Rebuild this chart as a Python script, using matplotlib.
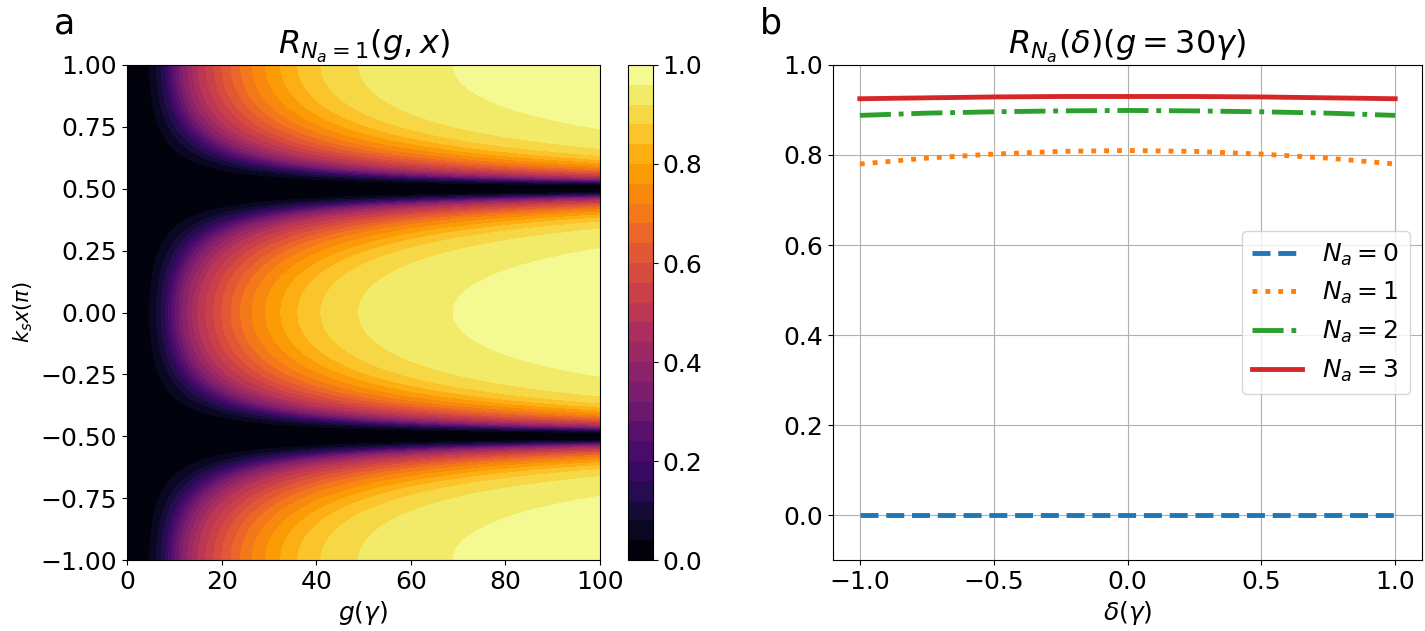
import numpy as np
import matplotlib
matplotlib.use('Agg')
import matplotlib.pyplot as plt

# Data ===========================================
# panel a: R along the antinode row (x = 0)
g_profile = [0, 4, 6, 8, 10, 12, 15, 20, 25, 30, 35, 40, 50, 70, 100]
R_profile = [0.0, 0.02, 0.07, 0.15, 0.27, 0.37, 0.48, 0.60, 0.70, 0.77,
             0.83, 0.875, 0.925, 0.962, 0.981]
g_range = (0, 100)
x_range = (-1, 1)

# panel b: R_Na(delta) at g = 30 gamma
delta = [-1.0, -0.75, -0.5, -0.25, 0.0, 0.25, 0.5, 0.75, 1.0]
R_na0 = [0.0, 0.0, 0.0, 0.0, 0.0, 0.0, 0.0, 0.0, 0.0]
R_na1 = [0.780, 0.793, 0.802, 0.808, 0.810, 0.808, 0.802, 0.793, 0.780]
R_na2 = [0.888, 0.893, 0.896, 0.898, 0.899, 0.898, 0.896, 0.893, 0.888]
R_na3 = [0.925, 0.927, 0.929, 0.930, 0.930, 0.930, 0.929, 0.927, 0.925]
labels = ['$N_a=0$', '$N_a=1$', '$N_a=2$', '$N_a=3$']
styles = ['--', ':', '-.', '-']

# General ========================================
fig = plt.figure(figsize=(14.25, 6.31), dpi=100)
fs = 18

# Panel a ========================================
ax_a = fig.add_axes([0.0891, 0.1125, 0.332, 0.7845])
cax = fig.add_axes([0.4407, 0.1125, 0.0175, 0.7845])

gg, xx = np.meshgrid(np.linspace(*g_range, 500), np.linspace(*x_range, 801))
# coupling seen by the atom scales with |cos(k_s x)|
R_field = np.interp(gg * np.abs(np.cos(np.pi * xx)), g_profile, R_profile)
cf = ax_a.contourf(gg, xx, R_field, levels=np.linspace(0, 1, 26), cmap='inferno')
cb = fig.colorbar(cf, cax=cax, ticks=[0, 0.2, 0.4, 0.6, 0.8, 1.0])
cb.ax.tick_params(labelsize=fs)
cb.ax.set_yticklabels(['0.0', '0.2', '0.4', '0.6', '0.8', '1.0'])

ax_a.set_xticks([0, 20, 40, 60, 80, 100])
ax_a.set_yticks([-1, -0.75, -0.5, -0.25, 0, 0.25, 0.5, 0.75, 1])
ax_a.tick_params(labelsize=fs)
ax_a.set_xlabel(r'$g(\gamma)$', fontsize=fs)
ax_a.set_ylabel(r'$k_s x(\pi)$', fontsize=15)
ax_a.set_title(r'$R_{N_a=1}(g,x)$', fontsize=23)

# Panel b ========================================
ax_b = fig.add_axes([0.5846, 0.1125, 0.4133, 0.7845])
for i, series in enumerate([R_na0, R_na1, R_na2, R_na3]):
    ax_b.plot(delta, series, styles[i], color=f'C{i}', lw=3.5, label=labels[i])
ax_b.set_ylim(-0.1, 1.0)
ax_b.set_xticks([-1.0, -0.5, 0.0, 0.5, 1.0])
ax_b.set_yticks([0.0, 0.2, 0.4, 0.6, 0.8, 1.0])
ax_b.grid(True)
ax_b.tick_params(labelsize=fs)
ax_b.set_xlabel(r'$\delta(\gamma)$', fontsize=fs)
ax_b.set_title(r'$R_{N_a}(\delta)(g=30\gamma)$', fontsize=23)
ax_b.legend(loc='center right', fontsize=18)

# Panel letters
fig.text(0.038, 0.99, 'a', fontsize=25, va='top')
fig.text(0.533, 0.99, 'b', fontsize=25, va='top')

fig.savefig('out.png', dpi=100)
